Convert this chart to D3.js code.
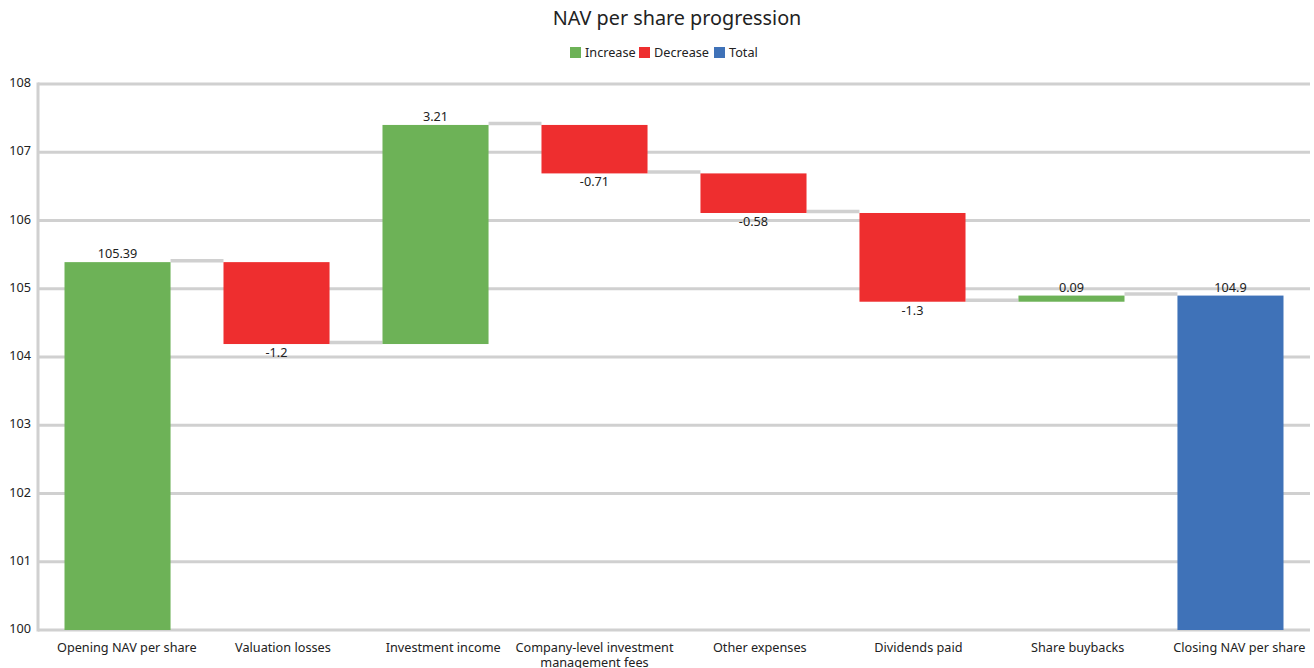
<!DOCTYPE html>
<html><head><meta charset="utf-8">
<script src="https://cdn.jsdelivr.net/npm/d3@7"></script>
<style>body{margin:0;background:#fff;font-family:"Noto Sans",sans-serif;}</style>
</head><body><svg id="c" width="1314" height="668"></svg>
<script>
const categories = ["Opening NAV per share","Valuation losses","Investment income","Company-level investment management fees","Other expenses","Dividends paid","Share buybacks","Closing NAV per share"];
const changes = [105.39, -1.2, 3.21, -0.71, -0.58, -1.3, 0.09, 104.9];
const kinds = ["increase","decrease","increase","decrease","decrease","decrease","increase","total"];
const yTicks = [100,101,102,103,104,105,106,107,108];
const legendItems = ["Increase","Decrease","Total"];
const colors = {increase:"#6db257", decrease:"#ee2e2f", total:"#3f72b8"};
const legendColors = [colors.increase, colors.decrease, colors.total];

const FS = 12.7;
const svg = d3.select("#c");
const W = 1314, H = 668;
const m = {l:38, r:4, t:84, b:38};
const x = d3.scaleBand().domain(categories).range([m.l, W-m.r]).paddingInner(0.333).paddingOuter(0.1667);
const y = d3.scaleLinear().domain([100,108]).range([H-m.b, m.t]);

// data
let run = 0;
const bars = categories.map((c,i)=>{
  let s,e;
  if (kinds[i]==="total") { s = 100; e = changes[i]; run = changes[i]; }
  else if (i===0) { s = 100; e = changes[i]; run = e; }
  else { s = run; e = run + changes[i]; run = e; }
  return {c, v:changes[i], s, e, k:kinds[i]};
});

// grid
svg.append("g").selectAll("line").data(yTicks).join("line")
  .attr("x1", m.l).attr("x2", W-m.r)
  .attr("y1", d=>y(d)).attr("y2", d=>y(d))
  .attr("stroke","#d0d0d0").attr("stroke-width",3);
svg.append("line").attr("x1",m.l).attr("x2",m.l).attr("y1",y(108)-1.5).attr("y2",y(100)+1.5)
  .attr("stroke","#d0d0d0").attr("stroke-width",3);

// y labels
svg.append("g").selectAll("text").data(yTicks).join("text")
  .attr("x", 31).attr("y", d=>y(d)-1).attr("dy","0.33em")
  .attr("text-anchor","end").attr("font-size",FS).attr("fill","#222")
  .text(d=>d);

// connectors
svg.append("g").selectAll("line").data(bars.slice(0,-1)).join("line")
  .attr("x1",(d)=>x(d.c)+x.bandwidth())
  .attr("x2",(d,i)=>x(categories[i+1]))
  .attr("y1",d=>y(d.e)-1.5).attr("y2",d=>y(d.e)-1.5)
  .attr("stroke","#d0d0d0").attr("stroke-width",3.5);

// bars
svg.append("g").selectAll("rect").data(bars).join("rect")
  .attr("x", d=>x(d.c)).attr("width", x.bandwidth())
  .attr("y", d=>y(Math.max(d.s,d.e)))
  .attr("height", d=>Math.abs(y(d.s)-y(d.e)))
  .attr("fill", d=>colors[d.k]);

// value labels
svg.append("g").selectAll("text").data(bars).join("text")
  .attr("x", d=>x(d.c)+x.bandwidth()/2)
  .attr("y", d=> d.k==="decrease" ? y(d.e)+13 : y(d.e)-4)
  .attr("text-anchor","middle").attr("font-size",FS).attr("fill","#222")
  .text(d=>d.v);

// x labels
const xl = svg.append("g").selectAll("text").data(categories).join("text")
  .attr("y", H-m.b+22).attr("font-size",FS).attr("fill","#222");
xl.each(function(d){
  const t = d3.select(this);
  const cx = x(d)+x.bandwidth()/2;
  if (d.startsWith("Company-level")) {
    t.attr("text-anchor","middle");
    t.append("tspan").attr("x", cx).text("Company-level investment");
    t.append("tspan").attr("x", cx).attr("dy","1.2em").text("management fees");
  } else {
    t.text(d).attr("text-anchor","start");
    const w = this.getComputedTextLength();
    t.attr("x", cx - 0.433*w);
  }
});

// title
svg.append("text").attr("x", 677).attr("y", 25).attr("text-anchor","middle")
  .attr("font-size",19.8).attr("fill","#222").text("NAV per share progression");

// legend
const lg = svg.append("g");
const lx = [570, 639, 714];
legendItems.forEach((t,i)=>{
  lg.append("rect").attr("x",lx[i]).attr("y",47).attr("width",11).attr("height",11).attr("fill",legendColors[i]);
  lg.append("text").attr("x",lx[i]+15).attr("y",57).attr("font-size",FS).attr("fill","#222").text(t);
});
</script></body></html>
